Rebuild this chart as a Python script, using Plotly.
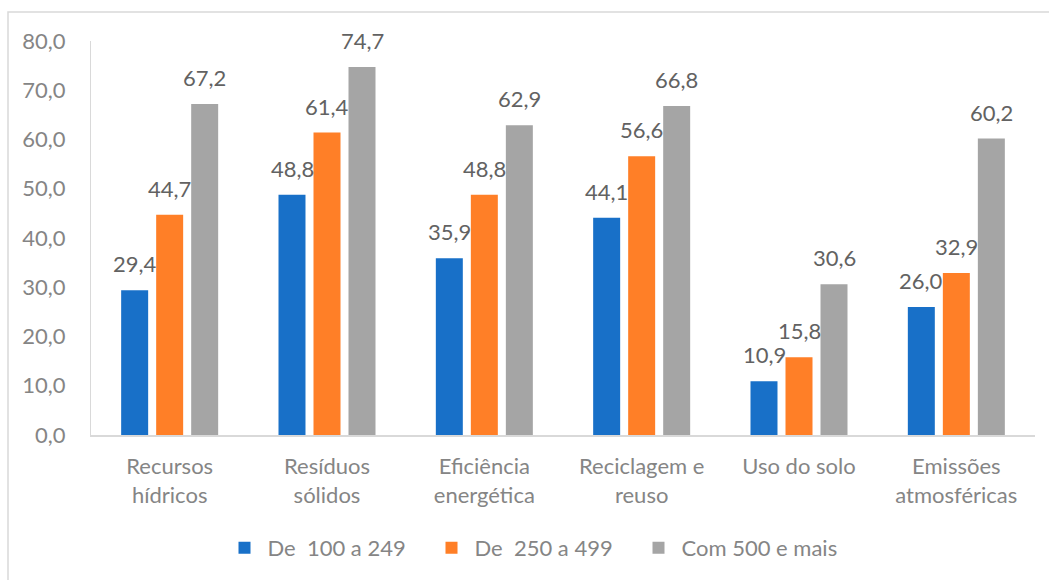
import plotly.graph_objects as go

categories = [
    "Recursos<br>hídricos",
    "Resíduos<br>sólidos",
    "Eficiência<br>energética",
    "Reciclagem e<br>reuso",
    "Uso do solo",
    "Emissões<br>atmosféricas",
]
series_names = ["De  100 a 249", "De  250 a 499", "Com 500 e mais"]
values_100_249 = [29.4, 48.8, 35.9, 44.1, 10.9, 26.0]
values_250_499 = [44.7, 61.4, 48.8, 56.6, 15.8, 32.9]
values_500_mais = [67.2, 74.7, 62.9, 66.8, 30.6, 60.2]
y_ticks = [0, 10, 20, 30, 40, 50, 60, 70, 80]

series_values = [values_100_249, values_250_499, values_500_mais]
colors = ["#1870C8", "#FF7F27", "#A5A5A5"]

FONT = "Lato, 'Open Sans', sans-serif"
FS = 22
AXIS_TEXT = "#858585"
LABEL_TEXT = "#626262"

W, H = 1049, 580
ML, MR, MT, MB = 91, 14, 41, 144
plot_w = W - ML - MR
plot_h = H - MT - MB


def fmt(v):
    return f"{v:.1f}".replace(".", ",")


fig = go.Figure()
for name, vals, col in zip(series_names, series_values, colors):
    fig.add_trace(go.Bar(
        x=categories, y=vals, name=name,
        marker=dict(color=col, line=dict(width=0)),
        hoverinfo="skip",
    ))

# value labels above each bar, offset to the bar's slot inside its group
slot_px = 35
annotations = []
for i, vals in enumerate(series_values):
    for cat, v in zip(categories, vals):
        annotations.append(dict(
            x=cat, y=v, xref="x", yref="y",
            text=fmt(v), showarrow=False,
            xshift=(i - 1) * slot_px, yshift=11,
            yanchor="bottom", xanchor="center",
            font=dict(family=FONT, size=FS, color=LABEL_TEXT),
        ))


def px_x(p):
    return (p - ML) / plot_w


def px_y(p):
    return (H - MB - p) / plot_h


# chart-area frame
shapes = [dict(
    type="rect", xref="paper", yref="paper",
    x0=px_x(8), x1=px_x(1065), y0=px_y(600), y1=px_y(12),
    line=dict(color="#D9D9D9", width=1.5), fillcolor="rgba(0,0,0,0)",
    layer="below",
)]

fig.update_layout(
    width=W, height=H,
    margin=dict(l=ML, r=MR, t=MT, b=MB),
    paper_bgcolor="white", plot_bgcolor="white",
    separators=",.",
    barmode="group", bargap=0.3325, bargroupgap=0.229,
    font=dict(family=FONT, size=FS, color=AXIS_TEXT),
    showlegend=True,
    legend=dict(
        orientation="h", x=px_x(532), xanchor="center",
        y=px_y(548), yanchor="middle",
        font=dict(family=FONT, size=FS, color=AXIS_TEXT),
        itemwidth=36,
        entrywidth=156, entrywidthmode="pixels",
        bgcolor="rgba(0,0,0,0)",
    ),
    annotations=annotations,
    shapes=shapes,
)
fig.update_xaxes(
    showline=True, linecolor="#D9D9D9", linewidth=2,
    showgrid=False, zeroline=False,
    ticks="outside", ticklen=11, tickcolor="rgba(0,0,0,0)",
    tickfont=dict(family=FONT, size=FS, color=AXIS_TEXT),
)
fig.update_yaxes(
    range=[0, 80], tickvals=y_ticks, tickformat=".1f",
    showline=True, linecolor="#D9D9D9", linewidth=1,
    showgrid=False, zeroline=False,
    ticks="outside", ticklen=20, tickcolor="rgba(0,0,0,0)",
    tickfont=dict(family=FONT, size=FS, color=AXIS_TEXT),
)

fig.write_html("out.html")
